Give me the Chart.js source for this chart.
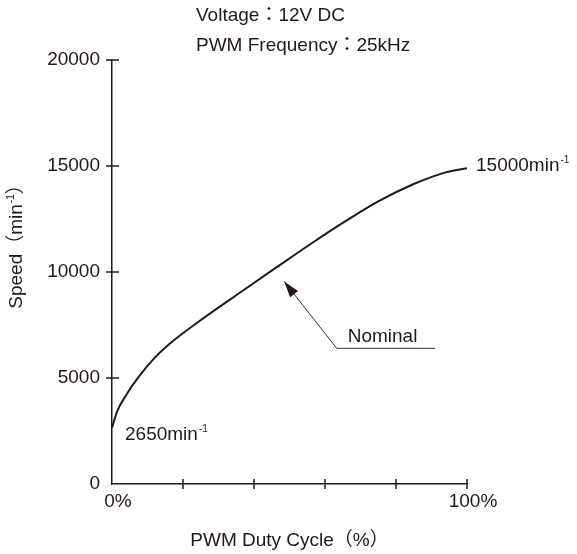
<!DOCTYPE html>
<html>
<head>
<meta charset="utf-8">
<script src="https://cdn.jsdelivr.net/npm/chart.js@4/dist/chart.umd.min.js"></script>
<style>
  html, body { margin: 0; padding: 0; background: #ffffff; }
  #speedChart { display: block; }
</style>
</head>
<body>
<canvas id="speedChart" width="577" height="554"></canvas>
<script>
// Speed vs PWM duty cycle
const dutyCycle = [0, 1.5, 4, 7.5, 12, 17, 26, 36, 46, 57, 66, 75, 85, 94, 100];
const speeds = [2650, 3450, 4200, 5050, 5950, 6720, 7850, 9020, 10180, 11440, 12420, 13330, 14150, 14700, 14900];
const xTicks = [0, 20, 40, 60, 80, 100];
const yTicks = [0, 5000, 10000, 15000, 20000];
const notes = ['Voltage：12V DC', 'PWM Frequency：25kHz'];

const INK = '#231815';
const FONT = '"Liberation Sans", "Noto Sans CJK JP", sans-serif';

// text like "2650min" followed by a small raised "-1"
function drawSup(ctx, base, sup, x, y) {
    ctx.font = '19px ' + FONT;
    ctx.textAlign = 'left';
    ctx.textBaseline = 'middle';
    ctx.fillText(base, x, y);
    const w = ctx.measureText(base).width;
    ctx.font = '10px ' + FONT;
    ctx.fillText(sup, x + w + 1, y - 6);
}

const annotations = {
    id: 'annotations',
    afterDraw(chart) {
        const ctx = chart.ctx;
        const xs = chart.scales.x;
        const ys = chart.scales.y;
        ctx.save();
        ctx.fillStyle = INK;
        ctx.strokeStyle = INK;

        // tick marks crossing the axes
        ctx.lineWidth = 1.5;
        const axisY = ys.getPixelForValue(0);
        xTicks.slice(1).forEach(v => {
            const px = xs.getPixelForValue(v);
            ctx.beginPath();
            ctx.moveTo(px, axisY - 5);
            ctx.lineTo(px, axisY + 5);
            ctx.stroke();
        });
        const axisX = xs.getPixelForValue(0);
        yTicks.slice(1).forEach(v => {
            const py = ys.getPixelForValue(v);
            ctx.beginPath();
            ctx.moveTo(axisX - 6, py);
            ctx.lineTo(axisX + 7, py);
            ctx.stroke();
        });

        // header notes
        ctx.font = '19px ' + FONT;
        ctx.textAlign = 'left';
        ctx.textBaseline = 'middle';
        ctx.fillText(notes[0], 196, 16);
        ctx.fillText(notes[1], 196, 46);

        // y axis title (sits a little above the middle of the axis)
        ctx.save();
        ctx.translate(17, 242);
        ctx.rotate(-Math.PI / 2);
        ctx.font = '19px ' + FONT;
        const head = 'Speed（min';
        const wHead = ctx.measureText(head).width;
        const wTail = ctx.measureText('）').width;
        ctx.font = '10px ' + FONT;
        const wSup = ctx.measureText('-1').width;
        let cx = -(wHead + 1 + wSup + wTail) / 2;
        ctx.textAlign = 'left';
        ctx.font = '19px ' + FONT;
        ctx.fillText(head, cx, 0);
        cx += wHead + 1;
        ctx.font = '10px ' + FONT;
        ctx.fillText('-1', cx, -6);
        cx += wSup;
        ctx.font = '19px ' + FONT;
        ctx.fillText('）', cx, 0);
        ctx.restore();

        // end point labels
        drawSup(ctx, '15000min', '-1', xs.getPixelForValue(100) + 9, ys.getPixelForValue(15000));
        drawSup(ctx, '2650min', '-1', xs.getPixelForValue(0) + 13, ys.getPixelForValue(2300));

        // "Nominal" leader with arrow
        const tipX = xs.getPixelForValue(48.5), tipY = ys.getPixelForValue(9550);
        const elbowX = xs.getPixelForValue(63.3), elbowY = ys.getPixelForValue(6400);
        const endX = xs.getPixelForValue(91);
        ctx.lineWidth = 1;
        ctx.strokeStyle = '#3a3533';
        ctx.beginPath();
        ctx.moveTo(endX, elbowY);
        ctx.lineTo(elbowX, elbowY);
        ctx.lineTo(tipX, tipY);
        ctx.stroke();
        const ang = Math.atan2(tipY - elbowY, tipX - elbowX);
        ctx.beginPath();
        ctx.moveTo(tipX, tipY);
        ctx.lineTo(tipX - 16 * Math.cos(ang) + 5 * Math.sin(ang), tipY - 16 * Math.sin(ang) - 5 * Math.cos(ang));
        ctx.lineTo(tipX - 16 * Math.cos(ang) - 5 * Math.sin(ang), tipY - 16 * Math.sin(ang) + 5 * Math.cos(ang));
        ctx.closePath();
        ctx.fill();
        ctx.font = '19px ' + FONT;
        ctx.textBaseline = 'bottom';
        ctx.fillText('Nominal', elbowX + 11, elbowY - 2);

        ctx.restore();
    }
};

new Chart(document.getElementById('speedChart'), {
    type: 'line',
    data: {
        datasets: [{
            data: dutyCycle.map((d, i) => ({ x: d, y: speeds[i] })),
            borderColor: INK,
            borderWidth: 2,
            pointRadius: 0,
            cubicInterpolationMode: 'monotone',
            fill: false
        }]
    },
    options: {
        responsive: false,
        animation: false,
        layout: {
            padding: { left: 0, top: 60, right: 110, bottom: 0 }
        },
        plugins: {
            legend: { display: false },
            tooltip: { enabled: false }
        },
        scales: {
            x: {
                type: 'linear',
                min: 0,
                max: 100,
                afterFit: (scale) => { scale.height = 70; },
                afterBuildTicks: (scale) => { scale.ticks = xTicks.map(v => ({ value: v })); },
                ticks: {
                    color: INK,
                    font: { family: FONT, size: 19 },
                    padding: 6,
                    labelOffset: 6,
                    maxRotation: 0,
                    autoSkip: false,
                    callback: (v) => (v === 0 || v === 100) ? v + '%' : ''
                },
                grid: { display: false, drawTicks: false },
                border: { color: INK, width: 1.5 },
                title: {
                    display: true,
                    text: 'PWM Duty Cycle（%）',
                    color: INK,
                    font: { family: FONT, size: 19 },
                    padding: { top: 0, bottom: 2 }
                }
            },
            y: {
                min: 0,
                max: 20000,
                afterFit: (scale) => { scale.width = 112; },
                afterBuildTicks: (scale) => { scale.ticks = yTicks.map(v => ({ value: v })); },
                ticks: {
                    color: INK,
                    font: { family: FONT, size: 19 },
                    padding: 12,
                    callback: (v) => String(v)
                },
                grid: { display: false, drawTicks: false },
                border: { color: INK, width: 1.5 }
            }
        }
    },
    plugins: [annotations]
});
</script>
</body>
</html>
